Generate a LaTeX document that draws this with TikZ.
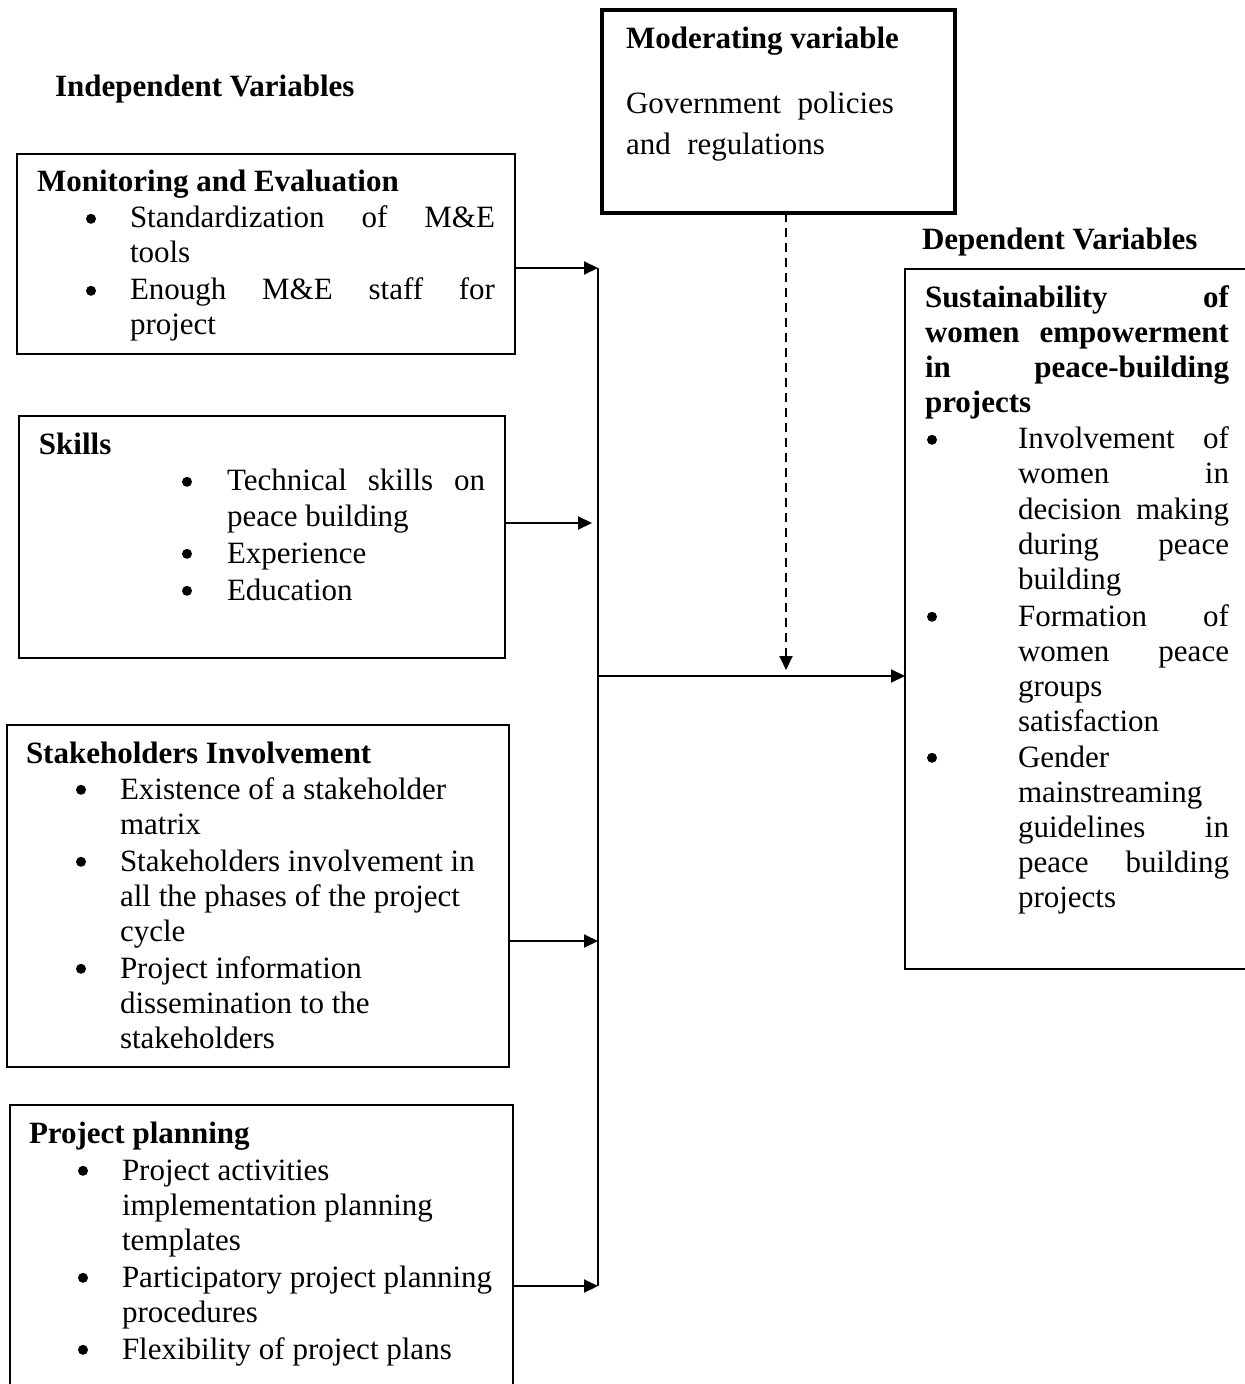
\documentclass[tikz,border=0pt]{standalone}
\usepackage{fontspec}
\setmainfont{Liberation Serif}
\usetikzlibrary{arrows.meta,calc}
\tikzset{
 txt/.style={anchor=base west, inner sep=0pt, outer sep=0pt, font=\fontsize{15.5pt}{17.5pt}\selectfont},
 ttl/.style={anchor=base west, inner sep=0pt, outer sep=0pt, font=\fontsize{15.5pt}{17.5pt}\selectfont\bfseries},
 bul/.style={circle, fill=black, inner sep=0pt, outer sep=0pt, minimum size=5pt, yshift=4.6pt},
 box/.style={draw, line width=0.75pt, inner sep=0pt, outer sep=0pt, anchor=north west},
 arr/.style={line width=1pt, -{Triangle[length=7pt,width=6.5pt]}},
 dasharr/.style={arr, dash pattern=on 4.5pt off 3pt},
}
\begin{document}
\begin{tikzpicture}[x=0.5pt,y=-0.5pt]
\useasboundingbox (0,0) rectangle (1244,1384);
\fill[white] (0,0) rectangle (1244,1384);

% boxes
\node[box, line width=2pt, minimum width=176.5pt, minimum height=101.5pt] (mod) at (602,10) {};
\node[box, minimum width=249pt, minimum height=100pt] (me) at (17,154) {};
\node[box, minimum width=243pt, minimum height=121pt] (sk) at (19,416) {};
\node[box, minimum width=251pt, minimum height=171pt] (st) at (7,725) {};
\node[box, minimum width=251.5pt, minimum height=150pt] (pp) at (10,1105) {};
\node[box, minimum width=172.5pt, minimum height=350pt] (dv) at (905,269) {};

% headings
\node[ttl] (indep) at (55,97) {Independent Variables};
\node[ttl] (dep) at (922,250) {Dependent Variables};

% moderating
\node[ttl] (modt) at (626,49) {Moderating variable};
\node[txt] (mod1) at (626,114) {\makebox[134pt][l]{Government\hfill policies}};
\node[txt] (mod2) at (626,155) {\makebox[99.5pt][l]{and\hfill regulations}};

% M&E
\node[ttl] (met) at (37,192) {Monitoring and Evaluation};
\foreach \yy/\lineTxt [count=\i] in {228/{Standardization\hfill of\hfill M\&E},263/{tools},300/{Enough\hfill M\&E\hfill staff\hfill for},335/{project}}
  \node[txt] (mel\i) at (130,\yy) {\makebox[182.5pt][l]{\lineTxt}};
\foreach \yy [count=\i] in {228,300}
  \node[bul] (meb\i) at (91,\yy) {};

% Skills
\node[ttl] (skt) at (39,455) {Skills};
\foreach \yy/\lineTxt [count=\i] in {491/{Technical\hfill skills\hfill on},526/{peace building},563/{Experience},600/{Education}}
  \node[txt] (skl\i) at (227,\yy) {\makebox[129pt][l]{\lineTxt}};
\foreach \yy [count=\i] in {491,563,600}
  \node[bul] (skb\i) at (187,\yy) {};

% Stakeholders
\node[ttl] (stt) at (26,763) {Stakeholders Involvement};
\foreach \yy/\lineTxt [count=\i] in {799/{Existence of a stakeholder},834/{matrix},871/{Stakeholders involvement in},906/{all the phases of the project},941/{cycle},978/{Project information},1013/{dissemination to the},1048/{stakeholders}}
  \node[txt] (stl\i) at (120,\yy) {\lineTxt};
\foreach \yy [count=\i] in {799,871,978}
  \node[bul] (stb\i) at (81,\yy) {};

% Project planning
\node[ttl] (ppt) at (29,1143) {Project planning};
\foreach \yy/\lineTxt [count=\i] in {1180/{Project activities},1215/{implementation planning},1250/{templates},1287/{Participatory project planning},1322/{procedures},1359/{Flexibility of project plans}}
  \node[txt] (ppl\i) at (122,\yy) {\lineTxt};
\foreach \yy [count=\i] in {1180,1287,1359}
  \node[bul] (ppb\i) at (83,\yy) {};

% Dependent
\foreach \yy/\lineTxt [count=\i] in {308/{Sustainability\hfill of},343/{women\hfill empowerment},378/{in\hfill peace-building},413/{projects}}
  \node[ttl] (dvt\i) at (925,\yy) {\makebox[152pt][l]{\lineTxt}};
\foreach \yy/\lineTxt [count=\i] in {449/{Involvement\hfill of},484/{women\hfill in},519/{decision\hfill making},554/{during\hfill peace},589/{building},626/{Formation\hfill of},661/{women\hfill peace},696/{groups},731/{satisfaction},767/{Gender},802/{mainstreaming},837/{guidelines\hfill in},872/{peace\hfill building},907/{projects}}
  \node[txt] (dvl\i) at (1018,\yy) {\makebox[105.5pt][l]{\lineTxt}};
\foreach \yy [count=\i] in {449,626,767}
  \node[bul] (dvb\i) at (932,\yy) {};

% connectors
\coordinate (j1) at (598,268);
\coordinate (j2) at (592,523);
\coordinate (j3) at (598,941);
\coordinate (j4) at (598,1286);
\coordinate (jm) at (598,676);
\coordinate (dtip) at (786,670);

\draw[line width=1pt] (j1) -- (j4);
\draw[arr] (me.east |- j1) -- (j1);
\draw[arr] (sk.east |- j2) -- (j2);
\draw[arr] (st.east |- j3) -- (j3);
\draw[arr] (pp.east |- j4) -- (j4);
\draw[arr] (jm) -- (dv.west |- jm);
\draw[dasharr] (mod.south -| dtip) -- (dtip);
\end{tikzpicture}
\end{document}
